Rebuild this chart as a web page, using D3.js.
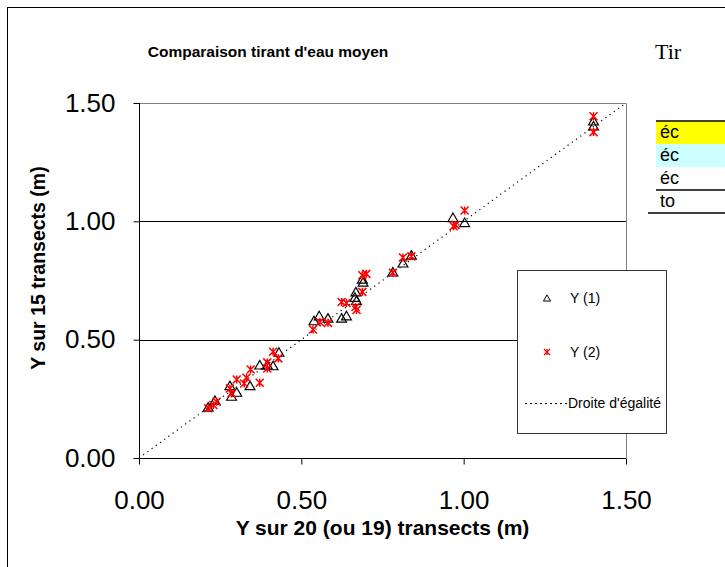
<!DOCTYPE html>
<html><head><meta charset="utf-8">
<script src="https://cdn.jsdelivr.net/npm/d3@7"></script>
<style>body{margin:0;background:#fff}svg{display:block}</style>
</head><body>
<script>
const title = "Comparaison tirant d'eau moyen";
const xTitle = "Y sur 20 (ou 19) transects (m)";
const yTitle = "Y sur 15 transects (m)";
const ticks = [0, 0.5, 1.0, 1.5];
const tickLabels = ["0.00", "0.50", "1.00", "1.50"];
const seriesNames = ["Y (1)", "Y (2)", "Droite d'égalité"];
// Y (1): triangles [x, y]
const y1x = [0.213,0.234,0.285,0.301,0.280,0.342,0.372,0.395,0.413,0.431,0.539,0.555,0.582,0.624,0.639,0.665,0.670,0.668,0.688,0.690,0.782,0.813,0.839,0.967,1.003,1.40,1.40];
const y1y = [0.210,0.238,0.256,0.273,0.301,0.301,0.388,0.388,0.385,0.442,0.575,0.596,0.586,0.586,0.596,0.674,0.660,0.697,0.751,0.738,0.781,0.819,0.852,1.011,0.990,1.419,1.398];
// Y (2): stars
const y2x = [0.213,0.229,0.239,0.285,0.280,0.324,0.331,0.301,0.344,0.372,0.395,0.395,0.429,0.413,0.536,0.557,0.582,0.624,0.639,0.667,0.670,0.688,0.688,0.700,0.782,0.813,0.839,0.969,0.975,1.003,1.40,1.40];
const y2y = [0.210,0.224,0.238,0.273,0.294,0.315,0.339,0.332,0.374,0.318,0.378,0.404,0.421,0.449,0.543,0.575,0.571,0.659,0.655,0.638,0.625,0.702,0.772,0.778,0.783,0.847,0.852,0.979,0.985,1.046,1.444,1.377];
const sheetTitle = "Tir";
const tableRows = ["éc", "éc", "éc", "to"];
const tableFills = ["#ffff00", "#ccffff", "#ffffff", "#ffffff"];

const W = 725, H = 567;
const svg = d3.select("body").append("svg").attr("width", W).attr("height", H);
const P = {l:139, r:626, t:103, b:458};
const x = d3.scaleLinear().domain([0,1.5]).range([P.l,P.r]);
const y = d3.scaleLinear().domain([0,1.5]).range([P.b,P.t]);
const font = "Arial, 'Liberation Sans', sans-serif";

// chart area border
svg.append("rect").attr("x",7.5).attr("y",7.5).attr("width",W).attr("height",H).attr("fill","#fff").attr("stroke","#000");

// sheet content visible on the right
const sheet = svg.append("g");
sheet.append("text").attr("x",655).attr("y",59).attr("font-family","'Liberation Serif','Times New Roman',serif")
  .attr("font-size",22).text(sheetTitle);
const rowH = 23, rowTop = 121;
tableRows.forEach((t,i)=>{
  sheet.append("rect").attr("x",656).attr("y",rowTop+i*rowH).attr("width",W-656).attr("height",rowH).attr("fill",tableFills[i]);
  sheet.append("text").attr("x",660).attr("y",rowTop+i*rowH+17).attr("font-family",font).attr("font-size",18).text(t);
});
[[656,rowTop],[656,rowTop+3*rowH],[648,rowTop+4*rowH]].forEach(([lx,ly])=>{
  sheet.append("line").attr("x1",lx).attr("x2",W).attr("y1",ly).attr("y2",ly).attr("stroke","#000").attr("stroke-width",1.5);
});

svg.append("text").attr("x",268).attr("y",57).attr("text-anchor","middle").attr("font-family",font)
  .attr("font-weight","bold").attr("font-size",15.5).text(title);

// plot border (top/right gray)
svg.append("path").attr("d",`M${P.l},${P.t+0.5}H${P.r+0.5}V${P.b}`).attr("fill","none").attr("stroke","#808080");
// gridlines
svg.append("g").selectAll("line").data(ticks.filter(t=>t>0&&t<1.5)).join("line")
  .attr("x1",P.l).attr("x2",P.r).attr("y1",d=>Math.round(y(d))+0.5).attr("y2",d=>Math.round(y(d))+0.5).attr("stroke","#000");

// axes
const xAxis = d3.axisBottom(x).tickValues(ticks).tickFormat((d,i)=>tickLabels[i]).tickSize(6).tickPadding(26);
const yAxis = d3.axisLeft(y).tickValues(ticks).tickFormat((d,i)=>tickLabels[i]).tickSize(6).tickPadding(18);
const gx = svg.append("g").attr("transform",`translate(0,${P.b+0.5})`).call(xAxis);
const gy = svg.append("g").attr("transform",`translate(${P.l+0.5},0)`).call(yAxis);
[gx,gy].forEach(g=>{
  g.select(".domain").attr("stroke","#000");
  g.selectAll("text").attr("font-family",font).attr("font-size",26).attr("fill","#000");
  g.selectAll("line").attr("stroke","#000");
});
gx.select(".domain").attr("d",`M${P.l},0H${P.r}`);
gy.select(".domain").attr("d",`M0,${P.b}V${P.t}`);

// diagonal
svg.append("line").attr("x1",x(0)).attr("y1",y(0)).attr("x2",x(1.5)).attr("y2",y(1.5))
  .attr("stroke","#000").attr("stroke-width",1.2).attr("stroke-dasharray","1.2,4");

// markers
const tri = d3.symbol().type(d3.symbolTriangle).size(42);
function star(cx,cy,s){return `M${cx-s},${cy-s}L${cx+s},${cy+s}M${cx-s},${cy+s}L${cx+s},${cy-s}M${cx},${cy-s}V${cy+s}`;}
svg.append("g").selectAll("path").data(y1x.map((v,i)=>[v,y1y[i]])).join("path")
  .attr("d",tri).attr("transform",d=>`translate(${x(d[0])},${y(d[1])})`)
  .attr("fill","none").attr("stroke","#000").attr("stroke-width",1.2);
svg.append("g").selectAll("path").data(y2x.map((v,i)=>[v,y2y[i]])).join("path")
  .attr("d",d=>star(x(d[0]),y(d[1]),4)).attr("fill","none").attr("stroke","#ff0000").attr("stroke-width",1.5);

// legend
const lg = svg.append("g");
lg.append("rect").attr("x",517.5).attr("y",270.5).attr("width",149).attr("height",163).attr("fill","#fff").attr("stroke","#333");
lg.append("path").attr("d",d3.symbol().type(d3.symbolTriangle).size(22)()).attr("transform","translate(547,299)").attr("fill","none").attr("stroke","#000");
lg.append("path").attr("d",star(547,352,3)).attr("fill","none").attr("stroke","#ff0000").attr("stroke-width",1.2);
lg.append("line").attr("x1",525).attr("x2",568).attr("y1",403.5).attr("y2",403.5).attr("stroke","#000").attr("stroke-dasharray","2,3");
[[298,0],[352,1],[403,2]].forEach(([yy,i])=>{
  lg.append("text").attr("x",i===2?568:570).attr("y",yy+5).attr("font-family",font).attr("font-size",14).text(seriesNames[i]);
});

// axis titles
svg.append("text").attr("x",(P.l+P.r)/2).attr("y",535).attr("text-anchor","middle").attr("font-family",font)
  .attr("font-weight","bold").attr("font-size",21).text(xTitle);
svg.append("text").attr("transform",`translate(45,268) rotate(-90)`).attr("text-anchor","middle").attr("font-family",font)
  .attr("font-weight","bold").attr("font-size",19.5).text(yTitle);
</script>
</body></html>
